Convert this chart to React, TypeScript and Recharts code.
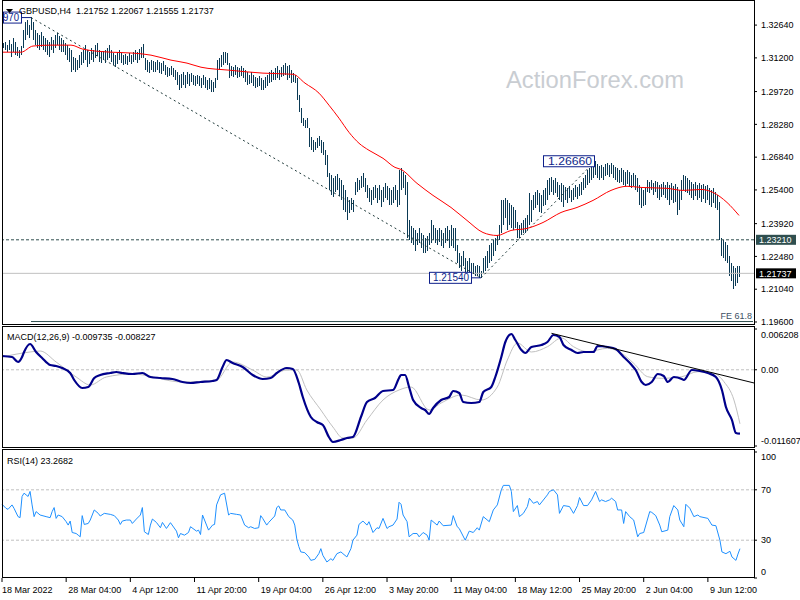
import React from "react";
import { ComposedChart, Bar, Line, XAxis, YAxis, ReferenceLine, ReferenceDot } from "recharts";

const FONT = "'Liberation Sans', Arial, Helvetica, sans-serif";
const BAR_COLOR = "#0b3a55";
const LABEL_NAVY = "#0d1f8a";
const SLATE = "#2f4f4f";

// H4 bar highs / lows, 18 Mar 2022 20:00 onwards
const highs = [
  1.3185, 1.3189, 1.3176, 1.3198, 1.3180, 1.3207, 1.3189, 1.3167, 1.3154, 1.3172,
  1.3242, 1.3277, 1.3286, 1.3264, 1.3299, 1.3277, 1.3242, 1.3229, 1.3220, 1.3233,
  1.3216, 1.3207, 1.3198, 1.3189, 1.3211, 1.3198, 1.3220, 1.3229, 1.3216, 1.3207,
  1.3198, 1.3185, 1.3176, 1.3163, 1.3154, 1.3123, 1.3119, 1.3110, 1.3132, 1.3145,
  1.3154, 1.3176, 1.3154, 1.3145, 1.3163, 1.3154, 1.3176, 1.3185, 1.3154, 1.3145,
  1.3150, 1.3154, 1.3163, 1.3176, 1.3154, 1.3141, 1.3132, 1.3145, 1.3154, 1.3141,
  1.3132, 1.3136, 1.3128, 1.3141, 1.3132, 1.3145, 1.3154, 1.3145, 1.3158, 1.3167,
  1.3180, 1.3119, 1.3110, 1.3101, 1.3110, 1.3106, 1.3101, 1.3110, 1.3101, 1.3097,
  1.3106, 1.3088, 1.3079, 1.3075, 1.3084, 1.3075, 1.3066, 1.3057, 1.3044, 1.3048,
  1.3057, 1.3044, 1.3057, 1.3048, 1.3053, 1.3044, 1.3040, 1.3044, 1.3040, 1.3031,
  1.3044, 1.3035, 1.3022, 1.3031, 1.3022, 1.3013, 1.3031, 1.3110, 1.3119, 1.3132,
  1.3145, 1.3145, 1.3141, 1.3097, 1.3084, 1.3079, 1.3088, 1.3079, 1.3075, 1.3084,
  1.3075, 1.3066, 1.3057, 1.3044, 1.3057, 1.3044, 1.3035, 1.3031, 1.3040, 1.3031,
  1.3022, 1.3035, 1.3044, 1.3057, 1.3066, 1.3057, 1.3075, 1.3084, 1.3066, 1.3079,
  1.3088, 1.3097, 1.3084, 1.3088, 1.3066, 1.3053, 1.3044, 1.3031, 1.2956, 1.2899,
  1.2855, 1.2846, 1.2855, 1.2811, 1.2771, 1.2758, 1.2749, 1.2767, 1.2776, 1.2758,
  1.2749, 1.2714, 1.2692, 1.2613, 1.2604, 1.2591, 1.2600, 1.2608, 1.2591, 1.2582,
  1.2560, 1.2538, 1.2507, 1.2494, 1.2503, 1.2494, 1.2573, 1.2591, 1.2582, 1.2600,
  1.2613, 1.2591, 1.2560, 1.2547, 1.2538, 1.2551, 1.2560, 1.2547, 1.2560, 1.2538,
  1.2551, 1.2569, 1.2556, 1.2547, 1.2538, 1.2551, 1.2560, 1.2538, 1.2626, 1.2635,
  1.2617, 1.2604, 1.2573, 1.2406, 1.2380, 1.2371, 1.2362, 1.2353, 1.2371, 1.2349,
  1.2340, 1.2327, 1.2336, 1.2353, 1.2406, 1.2384, 1.2371, 1.2362, 1.2375, 1.2366,
  1.2353, 1.2371, 1.2380, 1.2362, 1.2384, 1.2371, 1.2375, 1.2296, 1.2261, 1.2252,
  1.2274, 1.2243, 1.2230, 1.2239, 1.2217, 1.2221, 1.2208, 1.2212, 1.2204, 1.2186,
  1.2243, 1.2252, 1.2274, 1.2296, 1.2305, 1.2318, 1.2331, 1.2340, 1.2384, 1.2494,
  1.2494, 1.2503, 1.2494, 1.2481, 1.2472, 1.2463, 1.2450, 1.2397, 1.2384, 1.2393,
  1.2406, 1.2415, 1.2428, 1.2525, 1.2494, 1.2516, 1.2529, 1.2538, 1.2525, 1.2516,
  1.2538, 1.2547, 1.2582, 1.2591, 1.2595, 1.2582, 1.2591, 1.2573, 1.2560, 1.2569,
  1.2560, 1.2551, 1.2547, 1.2556, 1.2538, 1.2547, 1.2560, 1.2551, 1.2564, 1.2573,
  1.2591, 1.2604, 1.2626, 1.2635, 1.2644, 1.2648, 1.2666, 1.2652, 1.2644, 1.2648,
  1.2639, 1.2652, 1.2657, 1.2648, 1.2657, 1.2648, 1.2639, 1.2635, 1.2626, 1.2635,
  1.2626, 1.2617, 1.2626, 1.2617, 1.2604, 1.2613, 1.2604, 1.2591, 1.2560, 1.2547,
  1.2538, 1.2547, 1.2582, 1.2573, 1.2582, 1.2569, 1.2578, 1.2573, 1.2560, 1.2564,
  1.2573, 1.2560, 1.2573, 1.2560, 1.2569, 1.2556, 1.2564, 1.2551, 1.2538, 1.2582,
  1.2604, 1.2600, 1.2591, 1.2582, 1.2573, 1.2564, 1.2573, 1.2560, 1.2569, 1.2560,
  1.2564, 1.2556, 1.2560, 1.2547, 1.2538, 1.2547, 1.2529, 1.2516, 1.2485, 1.2327,
  1.2318, 1.2310, 1.2296, 1.2252, 1.2221, 1.2208, 1.2195, 1.2208, 1.22067,
];

const lows = [
  1.3163, 1.3154, 1.3145, 1.3154, 1.3123, 1.3145, 1.3132, 1.3128, 1.3119, 1.3132,
  1.3163, 1.3198, 1.3220, 1.3207, 1.3242, 1.3198, 1.3176, 1.3163, 1.3154, 1.3167,
  1.3154, 1.3145, 1.3132, 1.3123, 1.3154, 1.3141, 1.3163, 1.3176, 1.3154, 1.3145,
  1.3145, 1.3132, 1.3110, 1.3101, 1.3057, 1.3066, 1.3057, 1.3066, 1.3075, 1.3088,
  1.3097, 1.3110, 1.3079, 1.3092, 1.3110, 1.3101, 1.3119, 1.3128, 1.3101, 1.3097,
  1.3110, 1.3097, 1.3110, 1.3119, 1.3101, 1.3088, 1.3079, 1.3092, 1.3110, 1.3097,
  1.3088, 1.3092, 1.3088, 1.3101, 1.3092, 1.3101, 1.3110, 1.3097, 1.3110, 1.3119,
  1.3119, 1.3066, 1.3057, 1.3053, 1.3066, 1.3057, 1.3057, 1.3066, 1.3053, 1.3048,
  1.3062, 1.3044, 1.3035, 1.3040, 1.3044, 1.3035, 1.3022, 1.3000, 1.2978, 1.2987,
  1.3000, 1.2987, 1.3004, 1.2996, 1.3013, 1.3000, 1.2996, 1.3004, 1.2996, 1.2987,
  1.3000, 1.2987, 1.2978, 1.2982, 1.2969, 1.2969, 1.2987, 1.3022, 1.3066, 1.3079,
  1.3088, 1.3097, 1.3088, 1.3031, 1.3040, 1.3035, 1.3044, 1.3031, 1.3035, 1.3040,
  1.3031, 1.3013, 1.3000, 1.3004, 1.3009, 1.2996, 1.2987, 1.2991, 1.2996, 1.2978,
  1.2978, 1.2987, 1.2996, 1.3009, 1.3013, 1.3022, 1.3022, 1.3031, 1.3022, 1.3035,
  1.3040, 1.3044, 1.3022, 1.3031, 1.3009, 1.3013, 1.3009, 1.2934, 1.2881, 1.2833,
  1.2820, 1.2811, 1.2811, 1.2727, 1.2714, 1.2705, 1.2714, 1.2723, 1.2732, 1.2701,
  1.2692, 1.2648, 1.2595, 1.2538, 1.2516, 1.2507, 1.2529, 1.2538, 1.2512, 1.2494,
  1.2450, 1.2441, 1.2406, 1.2437, 1.2450, 1.2441, 1.2516, 1.2529, 1.2538, 1.2547,
  1.2551, 1.2529, 1.2503, 1.2485, 1.2472, 1.2494, 1.2503, 1.2481, 1.2494, 1.2463,
  1.2485, 1.2503, 1.2494, 1.2472, 1.2472, 1.2481, 1.2494, 1.2463, 1.2472, 1.2538,
  1.2547, 1.2516, 1.2327, 1.2318, 1.2305, 1.2296, 1.2274, 1.2296, 1.2305, 1.2283,
  1.2265, 1.2261, 1.2274, 1.2296, 1.2305, 1.2318, 1.2305, 1.2296, 1.2310, 1.2292,
  1.2287, 1.2305, 1.2314, 1.2287, 1.2292, 1.2283, 1.2274, 1.2221, 1.2195, 1.2186,
  1.2208, 1.2177, 1.2155, 1.2164, 1.2164, 1.2177, 1.2160, 1.2164, 1.2155, 1.2154,
  1.2177, 1.2186, 1.2199, 1.2221, 1.2230, 1.2252, 1.2274, 1.2296, 1.2318, 1.2353,
  1.2384, 1.2415, 1.2362, 1.2384, 1.2371, 1.2362, 1.2371, 1.2331, 1.2327, 1.2340,
  1.2349, 1.2353, 1.2362, 1.2384, 1.2397, 1.2450, 1.2459, 1.2472, 1.2441, 1.2437,
  1.2468, 1.2472, 1.2494, 1.2516, 1.2529, 1.2516, 1.2525, 1.2507, 1.2494, 1.2485,
  1.2463, 1.2494, 1.2481, 1.2503, 1.2485, 1.2494, 1.2507, 1.2498, 1.2512, 1.2516,
  1.2538, 1.2547, 1.2560, 1.2569, 1.2582, 1.2591, 1.2604, 1.2591, 1.2582, 1.2591,
  1.2582, 1.2600, 1.2604, 1.2595, 1.2608, 1.2591, 1.2582, 1.2573, 1.2569, 1.2573,
  1.2560, 1.2556, 1.2564, 1.2551, 1.2547, 1.2556, 1.2538, 1.2529, 1.2472, 1.2459,
  1.2468, 1.2472, 1.2529, 1.2525, 1.2538, 1.2516, 1.2529, 1.2503, 1.2494, 1.2507,
  1.2516, 1.2503, 1.2494, 1.2472, 1.2494, 1.2481, 1.2485, 1.2428, 1.2450, 1.2494,
  1.2538, 1.2529, 1.2525, 1.2516, 1.2503, 1.2494, 1.2512, 1.2494, 1.2503, 1.2485,
  1.2498, 1.2481, 1.2494, 1.2472, 1.2463, 1.2481, 1.2459, 1.2450, 1.2318, 1.2252,
  1.2239, 1.2230, 1.2221, 1.2164, 1.2142, 1.2107, 1.2120, 1.2133, 1.21555,
];

// [bar index, value]
const maPoints = [
  [0, 1.3145], [9, 1.3145], [15, 1.3172], [24, 1.3176], [34, 1.3176], [40, 1.3158], [54, 1.3145],
  [65, 1.3141], [74, 1.3132], [84, 1.311], [92, 1.3097], [99, 1.3079], [113, 1.3066], [130, 1.3053],
  [145, 1.3048], [151, 1.3009], [158, 1.2965], [163, 1.2912], [168, 1.2855], [173, 1.2793],
  [178, 1.2745], [183, 1.2714], [190, 1.2679], [196, 1.2639], [199, 1.263], [207, 1.2569],
  [215, 1.2516], [224, 1.2463], [232, 1.2406], [240, 1.2353], [247, 1.234], [254, 1.2362],
  [262, 1.2371], [270, 1.2397], [279, 1.2441], [287, 1.2463], [295, 1.2494], [304, 1.2538],
  [312, 1.2556], [319, 1.2551], [332, 1.2547], [340, 1.2538], [349, 1.2542], [355, 1.2529],
  [362, 1.2485], [368, 1.2428],
];

const macdPoints = [
  [0, 0.002097], [5, 0.001945], [8, 0.001183], [10, 0.001945], [11, 0.002706], [14, 0.003924],
  [17, 0.002706], [20, 0.001793], [24, 0.000727], [27, 0.000574], [30, 0.00027], [34, -0.000491],
  [36, -0.001557], [40, -0.002775], [43, -0.002623], [46, -0.001253], [49, -0.000796], [54, -0.000491],
  [57, -0.000339], [60, -0.000491], [65, -0.000644], [70, -0.000491], [74, -0.001101], [79, -0.001253],
  [85, -0.001405], [90, -0.001862], [94, -0.002014], [99, -0.001862], [105, -0.00171], [107, -0.001557],
  [110, 0.000422], [112, 0.001488], [115, 0.001031], [120, 0.000422], [125, -0.000796], [130, -0.001405],
  [134, -0.001253], [137, -0.000491], [142, 0.00027], [145, 0.000118], [148, -0.002014], [150, -0.004146],
  [154, -0.007191], [157, -0.007952], [160, -0.008409], [163, -0.010236], [165, -0.010997], [169, -0.010693],
  [172, -0.010388], [175, -0.010236], [179, -0.007191], [182, -0.004907], [186, -0.004298], [190, -0.003232],
  [195, -0.00308], [198, -0.001253], [199, -0.000796], [201, -0.000796], [203, -0.002623], [205, -0.004603],
  [209, -0.005821], [211, -0.006125], [213, -0.006734], [215, -0.005821], [219, -0.004603], [223, -0.004146],
  [225, -0.003232], [228, -0.003537], [230, -0.004907], [234, -0.005059], [238, -0.004907], [240, -0.003385],
  [244, -0.002623], [246, -0.001101], [249, 0.001945], [251, 0.004229], [254, 0.005447], [256, 0.004533],
  [259, 0.003011], [261, 0.002554], [264, 0.003467], [269, 0.003772], [272, 0.004229], [275, 0.005294],
  [278, 0.00499], [280, 0.003772], [284, 0.003011], [287, 0.002554], [290, 0.002706], [295, 0.002706],
  [297, 0.00362], [302, 0.003467], [306, 0.003163], [310, 0.001945], [314, 0.000727], [316, -0.000035],
  [319, -0.001862], [321, -0.002319], [324, -0.001862], [327, -0.000644], [330, -0.000948], [332, -0.001862],
  [335, -0.001101], [339, -0.001405], [340, -0.001557], [344, -0.000035], [348, -0.000187], [352, -0.000491],
  [356, -0.001101], [359, -0.00308], [361, -0.005668], [364, -0.007648], [366, -0.009627], [368, -0.009735],
];

const signalPoints = [
  [0, 0.001945], [14, 0.002706], [19, 0.002858], [27, 0.001183], [37, -0.001101], [44, -0.002319],
  [52, -0.001101], [65, -0.000644], [90, -0.001862], [107, -0.001557], [115, 0.001183], [125, -0.000035],
  [132, -0.001101], [142, -0.000035], [147, -0.000035], [152, -0.00308], [159, -0.006125], [165, -0.008713],
  [170, -0.010388], [175, -0.010388], [182, -0.007648], [190, -0.004603], [198, -0.00308], [204, -0.002623],
  [213, -0.006125], [219, -0.005059], [229, -0.003841], [239, -0.004603], [247, -0.002623], [252, 0.001488],
  [257, 0.004076], [264, 0.002706], [272, 0.003513], [279, 0.004838], [285, 0.003513], [292, 0.002752],
  [302, 0.00327], [309, 0.002508], [315, 0.000985], [322, -0.001055], [329, -0.001299], [339, -0.001055],
  [347, -0.000294], [355, -0.000538], [360, -0.001816], [365, -0.004603], [368, -0.008227],
];

const rsiPoints = [
  [0, 58.5], [2, 55.3], [3, 54.5], [5, 58.0], [6, 55.3], [8, 48.7], [9, 47.9], [10, 64.7], [11, 67.3],
  [12, 66.0], [13, 64.7], [14, 68.7], [15, 58.0], [16, 48.7], [17, 52.7], [19, 50.0], [22, 48.7],
  [24, 47.9], [25, 52.7], [26, 55.9], [27, 47.3], [28, 50.0], [30, 48.7], [32, 44.7], [33, 42.0],
  [34, 45.2], [35, 36.1], [37, 35.3], [38, 34.0], [39, 32.7], [40, 49.5], [41, 42.5], [43, 43.3],
  [44, 46.0], [46, 54.0], [48, 51.3], [49, 49.2], [51, 51.3], [54, 50.5], [56, 49.5], [58, 46.0],
  [59, 42.5], [60, 45.2], [62, 46.0], [64, 46.0], [65, 43.3], [67, 46.8], [69, 50.0], [70, 55.9],
  [71, 36.7], [73, 34.5], [74, 42.0], [75, 46.8], [77, 44.1], [79, 39.9], [80, 44.1], [82, 39.3],
  [84, 43.9], [87, 37.2], [88, 31.9], [89, 35.3], [91, 34.0], [93, 36.1], [94, 40.7], [97, 37.2],
  [98, 38.0], [99, 34.5], [100, 50.0], [102, 42.0], [103, 38.0], [105, 42.0], [106, 42.5], [107, 58.0],
  [109, 66.0], [111, 67.3], [113, 50.0], [114, 51.3], [117, 50.5], [119, 50.0], [121, 42.0], [123, 39.9],
  [124, 40.7], [126, 39.3], [128, 39.9], [129, 49.5], [130, 47.3], [132, 42.0], [133, 44.1], [136, 49.2],
  [137, 55.9], [138, 57.2], [139, 54.0], [141, 54.0], [143, 48.7], [145, 46.0], [146, 42.0], [147, 31.0],
  [148, 25.0], [149, 20.7], [151, 20.1], [153, 16.7], [154, 14.0], [156, 14.8], [158, 19.3], [159, 23.3],
  [160, 18.0], [162, 12.7], [164, 15.3], [165, 14.0], [167, 19.3], [169, 20.7], [170, 19.3], [172, 16.7],
  [174, 23.3], [175, 30.0], [177, 34.0], [178, 42.5], [180, 45.2], [182, 42.0], [183, 44.7], [185, 36.1],
  [187, 39.9], [188, 39.3], [190, 47.3], [192, 39.3], [193, 40.7], [195, 42.0], [197, 46.8], [198, 60.1],
  [199, 58.5], [200, 50.0], [202, 44.7], [203, 32.7], [205, 35.3], [207, 35.3], [208, 32.7], [210, 36.1],
  [212, 34.0], [213, 30.0], [214, 46.0], [217, 42.0], [218, 45.2], [220, 41.5], [224, 42.0], [225, 49.5],
  [227, 40.7], [228, 39.3], [231, 30.0], [233, 37.2], [235, 36.1], [237, 39.9], [238, 38.0], [240, 48.7],
  [243, 44.7], [245, 54.0], [247, 58.0], [249, 70.0], [250, 73.5], [253, 73.5], [254, 68.7], [255, 52.7],
  [257, 57.5], [258, 48.7], [260, 51.3], [262, 56.7], [263, 63.3], [265, 59.3], [267, 60.7], [268, 58.0],
  [272, 66.0], [273, 68.7], [275, 70.0], [277, 66.0], [278, 51.3], [280, 57.5], [283, 56.7], [285, 51.3],
  [287, 57.5], [288, 63.9], [290, 57.5], [292, 57.5], [294, 62.0], [296, 68.7], [298, 60.7], [299, 62.0],
  [301, 60.7], [303, 62.0], [304, 63.3], [306, 60.7], [307, 54.0], [309, 54.0], [310, 43.3], [311, 52.7],
  [313, 48.7], [315, 46.0], [317, 32.7], [318, 35.3], [320, 36.1], [323, 52.7], [324, 52.1], [326, 49.5],
  [328, 42.0], [329, 36.7], [332, 38.0], [333, 48.7], [335, 57.5], [337, 54.0], [338, 46.0], [340, 40.7],
  [341, 58.5], [343, 55.3], [345, 48.7], [347, 50.0], [348, 48.7], [352, 47.3], [354, 42.0], [356, 41.5],
  [358, 30.0], [359, 20.7], [361, 19.3], [363, 21.2], [364, 16.7], [366, 14.0], [367, 19.0], [368, 23.2682],
];

const timeLabels = [
  "18 Mar 2022", "28 Mar 04:00", "4 Apr 12:00", "11 Apr 20:00", "19 Apr 04:00", "26 Apr 12:00",
  "3 May 20:00", "11 May 04:00", "18 May 12:00", "25 May 20:00", "2 Jun 04:00", "9 Jun 12:00",
];
const priceTicks = [1.3264, 1.312, 1.2972, 1.2828, 1.2684, 1.254, 1.2392, 1.2248, 1.2104, 1.196];
const macdTicks = [0.006208, 0, -0.011607];
const rsiTicks = [100, 70, 30, 0];

const SLOTS = 376; // bars + empty right shift

const rows = Array.from({ length: SLOTS }, (_, i) => ({
  i,
  range: i < highs.length ? [lows[i], highs[i]] : null,
  ma: null as number | null,
  macd: null as number | null,
  signal: null as number | null,
  rsi: null as number | null,
}));
maPoints.forEach(([i, v]) => (rows[i].ma = v));
macdPoints.forEach(([i, v]) => (rows[i].macd = v));
signalPoints.forEach(([i, v]) => (rows[i].signal = v));
rsiPoints.forEach(([i, v]) => (rows[i].rsi = v));

const Stick = (p: any) => {
  if (!p.payload || !p.payload.range) return null;
  const cx = Math.floor(p.x + p.width / 2);
  const top = Math.round(p.y);
  const h = Math.max(1, Math.round(p.y + p.height) - top);
  return <rect x={cx} y={top} width={1} height={h} fill={BAR_COLOR} shapeRendering="crispEdges" />;
};

const PriceTick = ({ x, y, payload }: any) => (
  <text x={x} y={y} dy={3.2} fontSize={9} fontFamily={FONT} fill="#000" textAnchor="start">
    {payload.value.toFixed(5)}
  </text>
);

const MacdTick = ({ x, y, payload }: any) => {
  const v = payload.value;
  const shift = v > 0 ? 6 : v < 0 ? -5 : 0;
  return (
    <text x={x} y={y + shift} dy={3.2} fontSize={9} fontFamily={FONT} fill="#000" textAnchor="start">
      {v === 0 ? "0.00" : v.toFixed(6)}
    </text>
  );
};

const RsiTick = ({ x, y, payload }: any) => {
  const v = payload.value;
  const shift = v === 100 ? 5 : v === 0 ? -6 : 0;
  return (
    <text x={x} y={y + shift} dy={3.2} fontSize={9} fontFamily={FONT} fill="#000" textAnchor="start">
      {v}
    </text>
  );
};

const TimeTick = ({ x, y, payload }: any) => (
  <text x={x + (payload.value === 0 ? 0 : 2)} y={y} dy={9} fontSize={9} fontFamily={FONT} fill="#000" textAnchor="start">
    {timeLabels[payload.value / 32]}
  </text>
);

// coloured price box on the right scale
const AxisBox = ({ viewBox, text, bg }: any) => {
  if (!viewBox) return null;
  const x = viewBox.x + viewBox.width + 2;
  return (
    <g>
      <rect x={x} y={viewBox.y - 5} width={40} height={10} fill={bg} />
      <text x={x + 3} y={viewBox.y + 3.2} fontSize={9} fontFamily={FONT} fill="#fff">{text}</text>
    </g>
  );
};

const FeLabel = ({ viewBox }: any) => {
  if (!viewBox) return null;
  return (
    <text x={viewBox.x + viewBox.width - 1} y={viewBox.y - 2.5} textAnchor="end" fontSize={9} fontFamily={FONT} fill="#3c5064">
      FE 61.8
    </text>
  );
};

// MT4 style price label with connector, sitting left of its point
const PriceFlag = ({ cx, cy, text, boxW, gap, textW }: any) => {
  if (cx == null || cy == null) return null;
  const right = cx - gap;
  const left = right - boxW;
  return (
    <g>
      <line x1={right} y1={cy} x2={cx} y2={cy} stroke={LABEL_NAVY} />
      <rect x={left + 0.5} y={cy - 5.5} width={boxW} height={11} fill="#fff" stroke={LABEL_NAVY} />
      <text x={right - 2} y={cy + 3.6} textAnchor="end" fontSize={10} fontFamily={FONT} fill={LABEL_NAVY} textLength={textW} lengthAdjust="spacingAndGlyphs">
        {text}
      </text>
    </g>
  );
};

const yAxisCommon = {
  orientation: "right" as const,
  width: 46,
  interval: 0 as const,
  tickSize: 3,
  tickMargin: 4,
  axisLine: false,
  tickLine: { stroke: "#000" },
  allowDataOverflow: true,
};

export default function App() {
  return (
    <div style={{ position: "absolute", left: 0, top: 0, width: 800, height: 600, background: "#fff", overflow: "hidden" }}>
      {/* price window */}
      <div style={{ position: "absolute", left: 0, top: 0 }}>
        <ComposedChart width={800} height={326} data={rows} margin={{ top: 2, right: 0, bottom: 2, left: 2 }}>
          <XAxis dataKey="i" hide />
          <YAxis {...yAxisCommon} domain={[1.19512, 1.33654]} ticks={priceTicks} tick={<PriceTick />} />
          <ReferenceLine y={1.21737} stroke="#c0c0c0" label={<AxisBox text="1.21737" bg="#000" />} />
          <ReferenceLine y={1.2321} stroke={SLATE} strokeDasharray="3 2" label={<AxisBox text="1.23210" bg={SLATE} />} />
          <ReferenceLine segment={[{ x: 14, y: 1.1962 }, { x: 375, y: 1.1962 }]} stroke={SLATE} label={<FeLabel />} />
          <ReferenceLine segment={[{ x: 14, y: 1.3297 }, { x: 239, y: 1.2154 }]} stroke="#1f3a3a" strokeDasharray="2 3" />
          <ReferenceLine segment={[{ x: 239, y: 1.2154 }, { x: 296, y: 1.2666 }]} stroke="#1f3a3a" strokeDasharray="2 3" />
          <Bar dataKey="range" barSize={1} shape={<Stick />} isAnimationActive={false} />
          <Line dataKey="ma" type="monotone" stroke="#ff0000" strokeWidth={1} dot={false} connectNulls isAnimationActive={false} />
          <ReferenceDot x={296} y={1.2666} r={0} shape={(p: any) => <PriceFlag {...p} text="1.26660" boxW={51} gap={1} textW={44} />} />
          <ReferenceDot x={239} y={1.2154} r={0} shape={(p: any) => <PriceFlag {...p} text="1.21540" boxW={42} gap={10} textW={36} />} />
          <ReferenceDot x={14} y={1.3297} r={0} shape={(p: any) => <PriceFlag {...p} text="970" boxW={18} gap={10} textW={16} />} />
        </ComposedChart>
      </div>

      {/* MACD window */}
      <div style={{ position: "absolute", left: 0, top: 327 }}>
        <ComposedChart width={800} height={121} data={rows} margin={{ top: 2, right: 0, bottom: 2, left: 2 }}>
          <XAxis dataKey="i" hide />
          <YAxis {...yAxisCommon} domain={[-0.011607, 0.006208]} ticks={macdTicks} tick={<MacdTick />} />
          <ReferenceLine y={0} stroke="#c0c0c0" strokeDasharray="3 2" />
          <Line dataKey="signal" type="monotone" stroke="#c0c0c0" strokeWidth={1} dot={false} connectNulls isAnimationActive={false} />
          <Line dataKey="macd" type="monotone" stroke="#00008b" strokeWidth={2.2} dot={false} connectNulls isAnimationActive={false} />
          <ReferenceLine segment={[{ x: 274, y: 0.00555 }, { x: 375, y: -0.00201 }]} stroke="#000" />
        </ComposedChart>
      </div>

      {/* RSI window */}
      <div style={{ position: "absolute", left: 0, top: 450 }}>
        <ComposedChart width={800} height={150} data={rows} margin={{ top: 2, right: 0, bottom: 0, left: 2 }}>
          <XAxis dataKey="i" interval={31} height={22} tickSize={4} tickMargin={2} axisLine={false} tickLine={{ stroke: "#000" }} tick={<TimeTick />} />
          <YAxis {...yAxisCommon} domain={[0, 100]} ticks={rsiTicks} tick={<RsiTick />} />
          <ReferenceLine y={70} stroke="#c0c0c0" strokeDasharray="3 2" />
          <ReferenceLine y={30} stroke="#c0c0c0" strokeDasharray="3 2" />
          <Line dataKey="rsi" type="linear" stroke="#1e90ff" strokeWidth={1} dot={false} connectNulls isAnimationActive={false} />
        </ComposedChart>
      </div>

      {/* window frames, titles and watermark */}
      <svg width={800} height={600} style={{ position: "absolute", left: 0, top: 0, pointerEvents: "none" }}>
        <rect x={2.5} y={0.5} width={752} height={324} fill="none" stroke="#000" />
        <rect x={2.5} y={326.5} width={752} height={121} fill="none" stroke="#000" />
        <rect x={2.5} y={449.5} width={752} height={128} fill="none" stroke="#000" />
        <text x={506} y={88} fontSize={24} fontFamily={FONT} fill="#c9cdd2" textLength={178} lengthAdjust="spacingAndGlyphs">
          ActionForex.com
        </text>
        <polygon points="6,9 13,9 9.5,13" fill="#000" />
        <text x={19} y={13.5} fontSize={9} fontFamily={FONT} fill="#000" style={{ whiteSpace: "pre" }}>
          GBPUSD,H4  1.21752 1.22067 1.21555 1.21737
        </text>
        <text x={7} y={339.5} fontSize={9} fontFamily={FONT} fill="#000">
          MACD(12,26,9) -0.009735 -0.008227
        </text>
        <text x={7} y={463.5} fontSize={9} fontFamily={FONT} fill="#000">
          RSI(14) 23.2682
        </text>
      </svg>
    </div>
  );
}
